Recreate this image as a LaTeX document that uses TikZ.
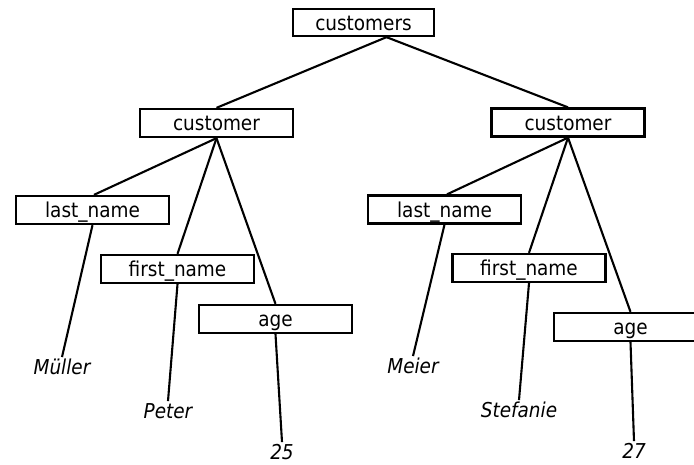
\documentclass[tikz,border=0pt]{standalone}
\usepackage{fontspec}
\setmainfont{DejaVu Sans Condensed}[ItalicFont={DejaVu Sans Condensed Oblique}]
\begin{document}
\begin{tikzpicture}[x=1pt,y=-1pt,
  elem/.style={draw,line width=2.3pt,rectangle,minimum width=153pt,minimum height=28pt,
    inner sep=0pt,text height=15.5pt,text depth=0pt,font=\fontsize{20.5}{24}\selectfont},
  val/.style={inner sep=2pt,text height=15.5pt,text depth=0pt,
    font=\fontsize{20.5}{24}\selectfont\itshape},
  edge/.style={line width=2.1pt}]
\clip (0,0) rectangle (694,465);
\fill[white] (0,0) rectangle (694,465);

% root element
\node[elem,minimum width=141pt,minimum height=27pt] (root) at (363.5,22.5) {customers};

% first customer
\node[elem] (c1) at (216.5,123) {customer};
\node[elem] (ln1) at (92.5,210) {last\_name};
\node[elem] (fn1) at (177.5,269) {first\_name};
\node[elem] (ag1) at (275.5,319) {age};
\node[val] (v11) at (62,367) {Müller};
\node[val] (v12) at (168,411) {Peter};
\node[val] (v13) at (282,452) {25};

% second customer
\node[elem] (c2) at (568,122.5) {customer};
\node[elem] (ln2) at (444.5,209.5) {last\_name};
\node[elem] (fn2) at (529,268) {first\_name};
\node[elem] (ag2) at (630.5,327) {age};
\node[val] (v21) at (413,366) {Meier};
\node[val] (v22) at (519,410) {Stefanie};
\node[val] (v23) at (634,451) {27};

% tree edges
\draw[edge] ([xshift=23pt]root.south) -- (c1.north);
\draw[edge] ([xshift=23pt]root.south) -- (c2.north);

\draw[edge] (c1.south) -- ([xshift=1.5pt]ln1.north);
\draw[edge] (c1.south) -- (fn1.north);
\draw[edge] (c1.south) -- (ag1.north);
\draw[edge] (ln1.south) -- (v11.north);
\draw[edge] (fn1.south) -- (v12.north);
\draw[edge] (ag1.south) -- (v13.north);

\draw[edge] (c2.south) -- ([xshift=2.5pt]ln2.north);
\draw[edge] (c2.south) -- (fn2.north);
\draw[edge] (c2.south) -- (ag2.north);
\draw[edge] (ln2.south) -- (v21.north);
\draw[edge] (fn2.south) -- (v22.north);
\draw[edge] (ag2.south) -- (v23.north);
\end{tikzpicture}
\end{document}
